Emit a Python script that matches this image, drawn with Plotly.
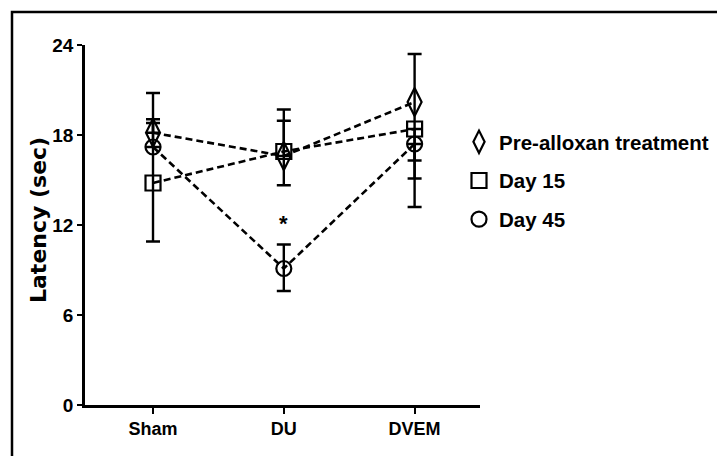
import plotly.graph_objects as go

categories = ["Sham", "DU", "DVEM"]
series_names = ["Pre-alloxan treatment", "Day 15", "Day 45"]

pre_alloxan = [18.15, 16.6, 20.2]
pre_alloxan_err_plus = [0.9, 2.35, 3.2]
pre_alloxan_err_minus = [0.0, 0.0, 3.9]

day15 = [14.8, 16.9, 18.4]
day15_err_plus = [4.0, 2.8, 0.0]
day15_err_minus = [3.9, 2.25, 3.3]

day45 = [17.2, 9.1, 17.4]
day45_err_plus = [3.6, 1.6, 0.0]
day45_err_minus = [0.0, 1.5, 4.2]

y_ticks = [0, 6, 12, 18, 24]
sig_category = "DU"
sig_value = 12.1
sig_label = "*"

FONT = "Liberation Sans, Arial"
symbols = ["diamond-tall-open", "square-open", "circle-open"]
sizes = [20, 15, 15]
values = [pre_alloxan, day15, day45]
eplus = [pre_alloxan_err_plus, day15_err_plus, day45_err_plus]
eminus = [pre_alloxan_err_minus, day15_err_minus, day45_err_minus]

fig = go.Figure()
for name, v, ep, em, sym, sz in zip(series_names, values, eplus, eminus, symbols, sizes):
    fig.add_trace(go.Scatter(
        x=categories, y=v, mode="lines+markers", name=name, showlegend=False,
        line=dict(color="black", width=2.6, dash="7px,4px"),
        marker=dict(symbol=sym, size=sz, color="black", line=dict(color="black", width=2.2)),
        error_y=dict(type="data", symmetric=False, array=ep, arrayminus=em,
                     color="black", thickness=2.4, width=7),
    ))
for i, (name, sym, sz) in enumerate(zip(series_names, symbols, sizes)):
    fig.add_trace(go.Scatter(
        x=[None], y=[None], mode="markers", name=name, legendgroup=f"g{i}",
        marker=dict(symbol=sym, size=sz, color="black", line=dict(color="black", width=2.2)),
    ))

fig.add_annotation(x=sig_category, y=sig_value, text=sig_label, showarrow=False,
                   font=dict(family=FONT, size=22, color="black", weight="bold"),
                   xanchor="center", yanchor="middle")

L, R, T, B = 85, 237, 45, 51
W, H = 717, 456
pw, ph = W - L - R, H - T - B

fig.add_annotation(x=(38 - L) / pw, y=(405 - 220) / ph, xref="paper", yref="paper",
                   text="Latency (sec)", textangle=-90, showarrow=False,
                   font=dict(family="DejaVu Sans", size=22, color="black", weight="bold"),
                   xanchor="center", yanchor="middle")

fig.add_shape(type="rect", xref="paper", yref="paper",
              x0=(12 - L) / pw, x1=(740 - L) / pw, y0=(405 - 470) / ph, y1=1 + (T - 12) / ph,
              line=dict(color="black", width=2.5), fillcolor="rgba(0,0,0,0)", layer="below")

fig.update_layout(
    width=W, height=H, autosize=False,
    margin=dict(l=L, r=R, t=T, b=B, autoexpand=False),
    paper_bgcolor="white", plot_bgcolor="white",
    legend=dict(x=(459 - L) / pw, y=(405 - 122) / ph, xanchor="left", yanchor="top",
                font=dict(family=FONT, size=20.5, color="black", weight="bold"),
                itemwidth=30, tracegroupgap=9, bgcolor="rgba(0,0,0,0)"),
    xaxis=dict(type="category", range=[-0.52, 2.5], showline=True, linecolor="black", linewidth=2.5,
               ticks="outside", ticklen=6, tickwidth=2, tickcolor="black", showgrid=False, zeroline=False,
               tickfont=dict(family=FONT, size=18, color="black", weight="bold")),
    yaxis=dict(range=[0, 24], tickvals=y_ticks, showline=True, linecolor="black", linewidth=2.5,
               ticks="outside", ticklen=5, tickwidth=2, tickcolor="black", showgrid=False, zeroline=False,
               tickfont=dict(family=FONT, size=19, color="black", weight="bold")),
)

fig.write_html("out.html")
